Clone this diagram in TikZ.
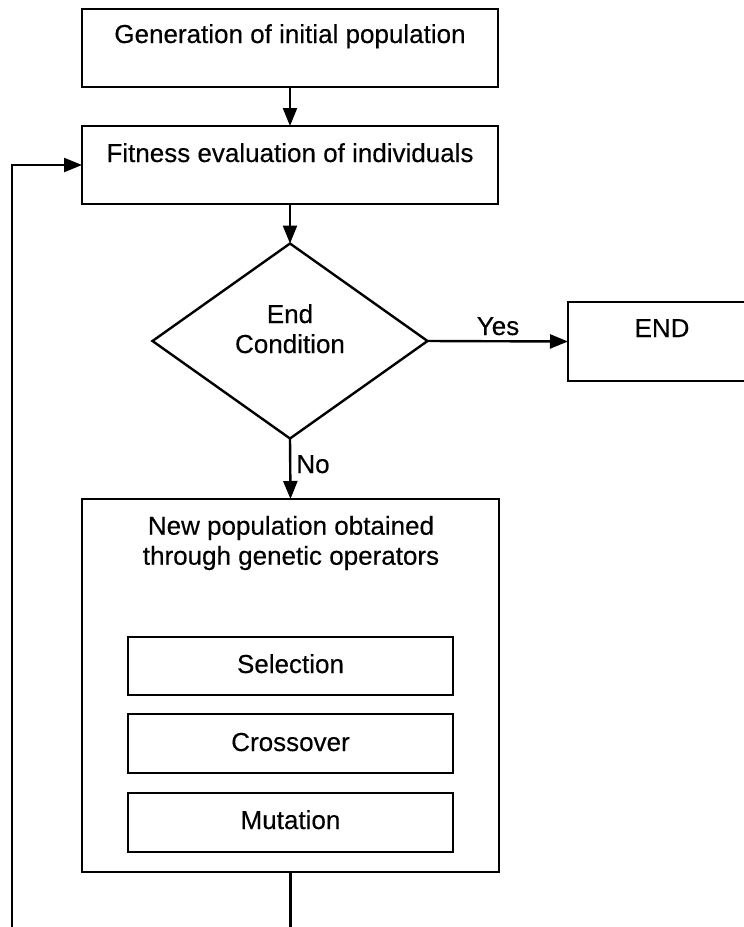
\documentclass[tikz,border=0pt]{standalone}
\usepackage{fontspec}
\setmainfont{Liberation Sans}
\newfontfamily\labelfont{Liberation Sans}[FakeBold=0.3]
\usetikzlibrary{arrows.meta,shapes.geometric}
\begin{document}
\begin{tikzpicture}[x=1pt,y=-1pt,
  every node/.style={inner sep=0pt, outer sep=0pt},
  txt/.style={font=\labelfont\fontsize{26}{30}\selectfont, anchor=base, align=center},
  stepbox/.style={draw, line width=2.4pt, rectangle},
  decision/.style={draw, line width=2.4pt, diamond},
  arr/.style={line width=2.4pt, -{Triangle[length=18pt,width=14pt]}}]
\useasboundingbox (0,0) rectangle (744,927);
\clip (0,0) rectangle (744,927);

% main boxes
\node[stepbox, minimum width=416pt, minimum height=78pt] (init) at (290,48) {};
\node[stepbox, minimum width=416pt, minimum height=78pt] (fitness) at (290,165) {};
\node[decision, minimum width=275pt, minimum height=195pt] (cond) at (290,341) {};
\node[stepbox, minimum width=188pt, minimum height=79pt] (endbox) at (662,341.5) {};
\node[stepbox, minimum width=417pt, minimum height=373pt] (newpop) at (290.5,685.5) {};
\node[stepbox, minimum width=325pt, minimum height=58pt] (sel) at (290.5,666) {};
\node[stepbox, minimum width=325pt, minimum height=59pt] (cross) at (290.5,743.5) {};
\node[stepbox, minimum width=325pt, minimum height=59pt] (mut) at (290.5,822.5) {};

% texts
\node[txt] (tinit) at (290,43) {Generation of initial population};
\node[txt] (tfit) at (290,162) {Fitness evaluation of individuals};
\node[txt] (tend) at (290,323) {End};
\node[txt] (tcond) at (290,353) {Condition};
\node[txt] (tEND) at (662,337) {END};
\node[txt, anchor=center] (tnew) at (291,543) {New population obtained\\through genetic operators};
\node[txt] (tsel) at (290.5,673) {Selection};
\node[txt] (tcross) at (290.5,751) {Crossover};
\node[txt] (tmut) at (290.5,829) {Mutation};
\node[txt] (yes) at (498,335) {Yes};
\node[txt] (no) at (313,473) {No};

% connectors
\draw[arr] (init.south) -- (fitness.north);
\draw[arr] (fitness.south) -- (cond.north);
\draw[arr] (cond.east) -- (endbox.west);
\draw[arr] (cond.south) -- (newpop.north);
\coordinate (loopbase) at (12,960);
\draw[arr] (newpop.south) |- (loopbase) |- (fitness.west);
\end{tikzpicture}
\end{document}
